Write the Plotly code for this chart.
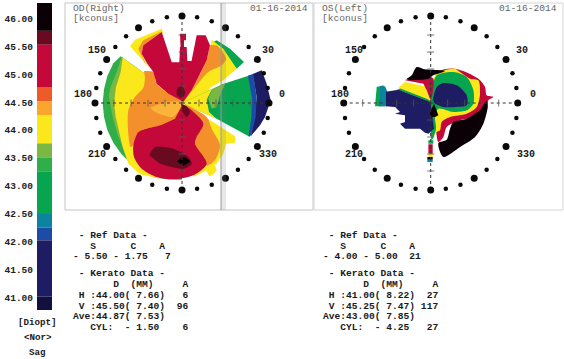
import plotly.graph_objects as go

W, H = 564, 359

# ---- colour key ----
key_edges = [46.28,45.78,45.53,44.76,44.52,44.27,43.76,43.51,43.25,42.51,42.25,42.02,41.01,40.77]
key_colors = ["#0a0005","#6a0a20","#c4083a","#ee5a28","#fba52c","#fbe81a","#79b843","#2fae4a","#07a550","#0c84a0","#1c4ca8","#1e1c62","#12103f"]
key_ticks = [41,41.5,42,42.5,43,43.5,44,44.5,45,45.5,46]
key_labels = ["41.00","41.50","42.00","42.50","43.00","43.50","44.00","44.50","45.00","45.50","46.00"]
key_notes = ["[Diopt]","<Nor>","Sag"]

BLACK,MAROON,RED,ORANGE,LORANGE,YELLOW,LGREEN,MGREEN,GREEN,TEAL,BLUE,NAVY = "#0a0005","#6a0a20","#c4083a","#f3902c","#fbb43a","#fbe81a","#79b843","#2fae4a","#07a550","#0c84a0","#1c4ca8","#1e1c62"

# ---- OD map contours (map units, 3 per screen pixel) ----
od_base_x=[182,160,142,132,128,132,142,160,184,213,247,285,326,366,366,248]
od_base_y=[168,189,227,267,308,349,389,427,461,490,514,532,537,538,308,215]
od_lg_x=[185,170,152,146,150,158,172,190,215,250,366,248]
od_lg_y=[170,215,260,285,308,350,400,445,480,510,308,215]
od_yel_x=[188,182,168,162,167,178,188,205,240,300,366,366,248]
od_yel_y=[172,215,260,308,350,400,440,490,522,535,400,308,215]
od_ora_x=[252,280,290,325,362,366,345,300,260,235,222,212,205,205,225,250,255]
od_ora_y=[212,215,250,280,300,318,355,375,385,395,430,440,400,330,290,262,232]
od_lor_x=[270,320,366,340,310,285]
od_lor_y=[322,305,308,350,345,335]
od_ulyel_x=[210,225,305,310,250,245,268]
od_ulyel_y=[138,118,85,100,135,160,202]
od_ulora_x=[235,250,307,250,245,258]
od_ulora_y=[145,120,92,135,160,196]
od_top_x=[366,325,290,280,262,245,250,305,335,335,358,360,380,382,395,395,410,437,450,440,420,395,370]
od_top_y=[302,280,250,215,190,160,135,95,185,186,186,140,140,182,182,180,105,105,135,180,220,270,305]
od_spike_x=[360,378,378,372,372,362]
od_spike_y=[100,100,120,120,150,150]
od_urg_x=[470,510,552,530,495,460]
od_urg_y=[120,145,185,205,160,125]
od_uryel_x=[455,490,530,490,450,438,366,380,420,450]
od_uryel_y=[118,145,205,240,262,295,308,290,220,150]
od_uror_x=[450,470,498,485,445,410,372,395,440]
od_uror_y=[135,135,175,195,215,255,303,270,180]
od_rg_x=[366,487,570,582,570,470]
od_rg_y=[308,252,225,300,410,355]
od_rlg_x=[487,455,445,455,470,480,495]
od_rlg_y=[252,270,295,325,320,285,252]
od_ry_x=[366,487,455,440,447,470]
od_ry_y=[308,252,268,298,335,356]
od_rb_x=[564,580,590,587,574,566,574,576]
od_rb_y=[226,220,290,350,405,408,350,295]
od_rn_x=[578,605,620,632,615,600,572,584,590]
od_rn_y=[221,210,250,300,350,375,408,350,290]
od_lry_x=[366,458,525,525,498,490,470,440,400,366]
od_lry_y=[312,364,408,428,430,460,490,510,530,400]
od_lro_x=[372,440,455,480,465,440,405,410,430]
od_lro_y=[310,350,385,435,480,495,430,410,370]
od_lrt_x=[438,445,452,458,465,470,460,448]
od_lrt_y=[510,505,500,498,495,510,522,528]
od_low_x=[368,395,430,410,405,440,400,340,290,245,222,220,235,260,300,345]
od_low_y=[312,330,370,410,430,490,525,537,530,505,470,435,395,385,375,355]
od_mar_x=[268,285,340,385,395,370,300]
od_mar_y=[465,440,445,470,490,505,490]
od_blk_x=[350,370,390,370]
od_blk_y=[483,470,483,497]
od_m1_x=[350,362,374,374,362,350]
od_m1_y=[270,255,270,283,292,283]
od_m2_x=[364,380,390,380,368]
od_m2_y=[310,318,335,350,335]

od_layers=[(MGREEN,od_base_x,od_base_y,"linear"),(LGREEN,od_lg_x,od_lg_y,"linear"),(YELLOW,od_yel_x,od_yel_y,"linear"),
(ORANGE,od_ora_x,od_ora_y,"spline"),(LORANGE,od_lor_x,od_lor_y,"spline"),(YELLOW,od_ulyel_x,od_ulyel_y,"linear"),(ORANGE,od_ulora_x,od_ulora_y,"linear"),
(GREEN,od_urg_x,od_urg_y,"linear"),(YELLOW,od_uryel_x,od_uryel_y,"linear"),(ORANGE,od_uror_x,od_uror_y,"spline"),(RED,od_top_x,od_top_y,"linear"),(RED,od_spike_x,od_spike_y,"linear"),
(GREEN,od_rg_x,od_rg_y,"linear"),(LGREEN,od_rlg_x,od_rlg_y,"linear"),(YELLOW,od_ry_x,od_ry_y,"linear"),(NAVY,od_rn_x,od_rn_y,"linear"),(BLUE,od_rb_x,od_rb_y,"linear"),
(YELLOW,od_lry_x,od_lry_y,"linear"),(ORANGE,od_lro_x,od_lro_y,"spline"),(YELLOW,od_lrt_x,od_lrt_y,"linear"),(RED,od_low_x,od_low_y,"spline"),(MAROON,od_mar_x,od_mar_y,"spline"),
(BLACK,od_blk_x,od_blk_y,"spline"),(MAROON,od_m1_x,od_m1_y,"spline"),(MAROON,od_m2_x,od_m2_y,"spline")]

# ---- OS map contours ----
os_lg_x=[195,200,220,225,225,195]
os_lg_y=[318,260,255,272,318,318]
os_lt_x=[210,225,232,232,210]
os_lt_y=[257,258,274,318,318]
os_ln_x=[228,265,362,362,372,355,345,330,285,270,285,285,255,270,255,280,228]
os_ln_y=[274,268,305,310,385,400,397,385,385,370,365,345,340,335,320,322,318]
os_fg_x=[262,285,345,362,352,300]
os_fg_y=[268,256,275,305,302,282]
os_fy_x=[265,285,345,362,352,300]
os_fy_y=[262,245,258,302,296,276]
os_fr_x=[285,300,350,370,362,350,340]
os_fr_y=[240,232,228,235,298,270,250]
os_fb_x=[290,305,320,345,405,370,355,300]
os_fb_y=[235,225,200,207,212,225,235,240]
os_or_x=[362,385,435,505,525,530,550,535,530,500,450,410,400,385,375]
os_or_y=[290,215,205,235,260,285,290,300,330,350,360,380,410,425,340]
os_oy_x=[362,380,435,450,480,505,510,500,470,420,395,390,380,370,362]
os_oy_y=[260,220,205,215,235,240,280,320,340,350,365,390,395,410,310]
os_rg_x=[362,380,430,470,490,490,470,430,385,375,378,365,360]
os_rg_y=[280,225,215,230,270,310,330,335,325,350,385,420,320]
os_bl_x=[368,380,400,440,470,470,440,400,375]
os_bl_y=[300,260,248,255,285,315,320,320,310]
os_db_x=[530,533,520,495,450,400,385,410,420,430,470,510]
os_db_y=[300,320,370,410,440,470,428,418,385,365,355,330]
os_cn_x=[360,372,385,375,360]
os_cn_y=[335,310,345,350,350]
os_st1_x=[355,368,368,355]
os_st1_y=[432,432,460,460]
os_st2_x=[355,368,368,355]
os_st2_y=[460,460,470,470]
os_st3_x=[352,368,368,352]
os_st3_y=[470,470,478,478]
os_st4_x=[352,368,368,352]
os_st4_y=[478,478,485,485]
os_st5_x=[355,370,370,355]
os_st5_y=[420,420,430,430]

os_layers=[(GREEN,os_lg_x,os_lg_y,"linear"),(TEAL,os_lt_x,os_lt_y,"linear"),(RED,os_or_x,os_or_y,"spline"),(YELLOW,os_oy_x,os_oy_y,"spline"),
(GREEN,os_rg_x,os_rg_y,"spline"),(NAVY,os_bl_x,os_bl_y,"spline"),(BLACK,os_db_x,os_db_y,"spline"),(GREEN,os_fg_x,os_fg_y,"linear"),(YELLOW,os_fy_x,os_fy_y,"linear"),(RED,os_fr_x,os_fr_y,"spline"),(BLACK,os_fb_x,os_fb_y,"spline"),
(NAVY,os_ln_x,os_ln_y,"linear"),(BLACK,os_cn_x,os_cn_y,"linear"),(RED,os_st1_x,os_st1_y,"linear"),(YELLOW,os_st2_x,os_st2_y,"linear"),(BLACK,os_st3_x,os_st3_y,"linear"),(TEAL,os_st4_x,os_st4_y,"linear"),(GREEN,os_st5_x,os_st5_y,"linear")]

# ---- rings ----
ring_big = [0,30,60,90,120,150,180,210,240,270,300,330]
ring_small = [a for a in range(0,360,10) if a%30]
ring_radius = 87
axis_dirs = [0,90,180,270]
tick_radii_major = [17,34,51,68]

# ---- text ----
panel_heads = [("OD(Right)","[kconus]","01-16-2014",73,308),("OS(Left)","[kconus]","01-16-2014",322,557)]
ang_labels_od = [("150",96.7,50.7),("30",268,50.7),("180",82.7,94.7),("0",281.7,94.7),("210",96.7,154),("330",268,154)]
ang_labels_os = [("150",354,50.7),("30",522,50.7),("180",340,94.7),("0",533,94.7),("210",354,154),("330",525.7,154)]
text_y = [235.3,246.7,256.7,273.3,284,295.3,306,316.7,327.3]
od_text = [" - Ref Data -","   S      C    A","- 5.50 - 1.75   7"," - Kerato Data -","       D  (MM)     A",
           " H :44.00( 7.66)   6"," V :45.50( 7.40)  96","Ave:44.87( 7.53)","   CYL:  - 1.50    6"]
os_text = [" - Ref Data -","   S      C    A","- 4.00 - 5.00  21"," - Kerato Data -","       D  (MM)     A",
           " H :41.00( 8.22)  27"," V :45.25( 7.47) 117","Ave:43.00( 7.85)","   CYL:  - 4.25   27"]

MONO="Liberation Mono"
def px(x): return x/W
def py(y): return 1-y/H

fig=go.Figure()

def add_patches(layers,xa,ya):
    for c,xs,ys,sh in layers:
        fig.add_trace(go.Scatter(x=xs,y=ys,xaxis=xa,yaxis=ya,mode="lines",fill="toself",fillcolor=c,
                                 line=dict(width=0,color=c,shape=sh,**({"smoothing":0.8} if sh=="spline" else {})),hoverinfo="skip",showlegend=False))
add_patches(od_layers,"x","y")
add_patches(os_layers,"x2","y2")

for i in range(len(key_colors)):
    fig.add_trace(go.Bar(x=[1],y=[key_edges[i]-key_edges[i+1]],base=[key_edges[i+1]],xaxis="x3",yaxis="y3",
                         marker=dict(color=key_colors[i],line=dict(width=0)),width=1,showlegend=False,hoverinfo="skip"))

for sp in ["polar","polar2"]:
    for a in axis_dirs:
        fig.add_trace(go.Scatterpolar(r=[0,ring_radius],theta=[a,a],subplot=sp,mode="lines",
                                      line=dict(color="#333333",width=1,dash="dot"),showlegend=False,hoverinfo="skip"))
        sym = "line-ns" if a%180==0 else "line-ew"
        fig.add_trace(go.Scatterpolar(r=tick_radii_major,theta=[a]*len(tick_radii_major),subplot=sp,mode="markers",
                                      marker=dict(symbol=sym,size=5,line=dict(color="#555555",width=0.8)),showlegend=False,hoverinfo="skip"))
    fig.add_trace(go.Scatterpolar(r=[ring_radius]*len(ring_small),theta=ring_small,subplot=sp,mode="markers",
                                  marker=dict(color="#0a0a0a",size=4.5),showlegend=False,hoverinfo="skip"))
    fig.add_trace(go.Scatterpolar(r=[ring_radius]*len(ring_big),theta=ring_big,subplot=sp,mode="markers",
                                  marker=dict(color="#0a0a0a",size=7),showlegend=False,hoverinfo="skip"))

ann=[]
def note(t,x,y,anchor="left",size=9.6,color="#1a1a1a",bold=True):
    ann.append(dict(text=f"<b>{t}</b>" if bold else t,x=px(x),y=py(y),xref="paper",yref="paper",showarrow=False,
                    xanchor=anchor,yanchor="middle",font=dict(family=MONO,size=size,color=color),borderpad=0,borderwidth=0))
for a,b,c,x0,x1 in panel_heads:
    note(a,x0,9,color="#666666",bold=False)
    note(b,x0,19,color="#666666",bold=False)
    note(c,x1,9,anchor="right",color="#666666",bold=False)
for t,x,y in ang_labels_od+ang_labels_os:
    note(t,x,y,anchor="center",size=10)
for lines,x0 in [(od_text,73.3),(os_text,322.6)]:
    for t,y in zip(lines,text_y):
        note(t.replace(" ","\u00a0"),x0,y)
for t,y in zip(key_notes,[322.7,337,352]):
    note(t.replace("<","&lt;").replace(">","&gt;"),37.7,y,anchor="center",size=9.2)

hidden=dict(visible=False,showgrid=False,zeroline=False)
polar_common=dict(bgcolor="rgba(0,0,0,0)",radialaxis=dict(visible=False,range=[0,100]),angularaxis=dict(visible=False))
shapes=[
 dict(type="rect",xref="paper",yref="paper",x0=px(65),x1=px(313),y0=py(210),y1=py(3),line=dict(color="#c4c4c4",width=1)),
 dict(type="rect",xref="paper",yref="paper",x0=px(314),x1=px(563),y0=py(210),y1=py(3),line=dict(color="#d4d4d4",width=1)),
 dict(type="rect",xref="paper",yref="paper",x0=px(221),x1=px(226),y0=py(210),y1=py(3),fillcolor="rgba(120,120,120,0.18)",line=dict(width=0)),
 dict(type="line",xref="paper",yref="paper",x0=px(221),x1=px(221),y0=py(210),y1=py(3),line=dict(color="#999999",width=1)),
]
fig.update_layout(width=W,height=H,autosize=False,margin=dict(l=0,r=0,t=0,b=0),paper_bgcolor="white",plot_bgcolor="rgba(0,0,0,0)",
    showlegend=False,barmode="overlay",annotations=ann,shapes=shapes,
    xaxis=dict(domain=[px(82),px(282)],range=[66,666],anchor="y",**hidden),
    yaxis=dict(domain=[py(203),py(3)],range=[608,8],anchor="x",**hidden),
    xaxis2=dict(domain=[px(330.7),px(530.7)],range=[62,662],anchor="y2",**hidden),
    yaxis2=dict(domain=[py(203),py(3)],range=[608,8],anchor="x2",**hidden),
    xaxis3=dict(domain=[px(37),px(52)],range=[0.5,1.5],anchor="y3",**hidden),
    yaxis3=dict(domain=[py(310),py(3)],range=[40.77,46.28],anchor="x3",showgrid=False,zeroline=False,showline=False,ticks="",
                ticklabelstandoff=3,tickvals=key_ticks,ticktext=[f"<b>{l}</b>" for l in key_labels],
                tickfont=dict(family=MONO,size=9.5,color="#222222")),
    polar=dict(domain=dict(x=[px(82),px(282)],y=[py(203),py(3)]),**polar_common),
    polar2=dict(domain=dict(x=[px(330.7),px(530.7)],y=[py(203),py(3)]),**polar_common),
)
fig.write_html("out.html",config=dict(displayModeBar=False),post_script="document.body.style.margin='0';document.documentElement.style.overflow='hidden';")
